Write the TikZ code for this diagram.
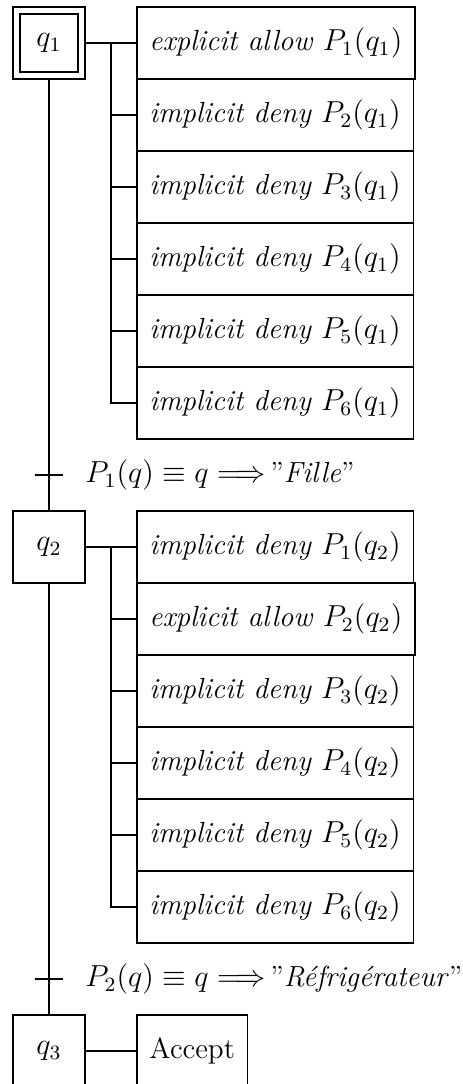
\documentclass[tikz,border=0pt,12pt]{standalone}
\usepackage{tikz}

\tikzset{
  etape/.style={draw, line width=0.7pt, minimum width=1cm, minimum height=1cm},
  action/.style={draw, line width=0.7pt, anchor=west, minimum height=1cm, inner xsep=5pt},
  lien/.style={line width=0.7pt},
  crochet/.style={line width=1pt},
}

\begin{document}
\begin{tikzpicture}[font=\fontsize{11.5}{14}\selectfont]
  \useasboundingbox (-0.68,0.6) rectangle (5.74,-14.46);

  %% Steps
  \node[etape] (q1) at (0,0) {$q_1$};
  \draw[lien] ([shift={(0.11,0.11)}]q1.south west) rectangle ([shift={(-0.11,-0.11)}]q1.north east);
  \node[etape] (q2) at (0,-7) {$q_2$};
  \node[etape] (q3) at (0,-14) {$q_3$};

  %% Actions of q1
  \node[action] (a11) at (1.208,0)  {\textit{explicit allow} $P_1(q_1)$};
  \node[action] (a12) at (1.208,-1) {\textit{implicit deny} $P_2(q_1)$};
  \node[action] (a13) at (1.208,-2) {\textit{implicit deny} $P_3(q_1)$};
  \node[action] (a14) at (1.208,-3) {\textit{implicit deny} $P_4(q_1)$};
  \node[action] (a15) at (1.208,-4) {\textit{implicit deny} $P_5(q_1)$};
  \node[action] (a16) at (1.208,-5) {\textit{implicit deny} $P_6(q_1)$};

  %% Actions of q2
  \node[action] (a21) at (1.208,-7)  {\textit{implicit deny} $P_1(q_2)$};
  \node[action] (a22) at (1.208,-8)  {\textit{explicit allow} $P_2(q_2)$};
  \node[action] (a23) at (1.208,-9)  {\textit{implicit deny} $P_3(q_2)$};
  \node[action] (a24) at (1.208,-10) {\textit{implicit deny} $P_4(q_2)$};
  \node[action] (a25) at (1.208,-11) {\textit{implicit deny} $P_5(q_2)$};
  \node[action] (a26) at (1.208,-12) {\textit{implicit deny} $P_6(q_2)$};

  %% Action of q3
  \node[action] (acc) at (1.208,-14) {Accept};

  %% Brackets
  \coordinate (b1) at (0.861,0);
  \coordinate (b2) at (0.861,-7);
  \draw[lien] (q1.east) -- (a11.west);
  \draw[crochet] (b1) |- (a16.west);
  \draw[lien] (b1 |- a12.west) -- (a12.west);
  \draw[lien] (b1 |- a13.west) -- (a13.west);
  \draw[lien] (b1 |- a14.west) -- (a14.west);
  \draw[lien] (b1 |- a15.west) -- (a15.west);
  \draw[lien] (q2.east) -- (a21.west);
  \draw[crochet] (b2) |- (a26.west);
  \draw[lien] (b2 |- a22.west) -- (a22.west);
  \draw[lien] (b2 |- a23.west) -- (a23.west);
  \draw[lien] (b2 |- a24.west) -- (a24.west);
  \draw[lien] (b2 |- a25.west) -- (a25.west);
  \draw[lien] (q3.east) -- (acc.west);

  %% Transitions
  \coordinate (t1) at (0,-6);
  \coordinate (t2) at (0,-13);
  \draw[lien] (q1.south) -- (q2.north);
  \draw[lien] (q2.south) -- (q3.north);
  \draw[lien] ([xshift=-0.2cm]t1) -- ([xshift=0.2cm]t1);
  \draw[lien] ([xshift=-0.2cm]t2) -- ([xshift=0.2cm]t2);
  \node[anchor=west, inner sep=0pt] (c1) at (0.5,-6) {$P_1(q) \equiv q \Longrightarrow$\,''\textit{Fille}''};
  \node[anchor=west, inner sep=0pt] (c2) at (0.5,-13) {$P_2(q) \equiv q \Longrightarrow$\,''\textit{Réfrigérateur}''};
\end{tikzpicture}
\end{document}
